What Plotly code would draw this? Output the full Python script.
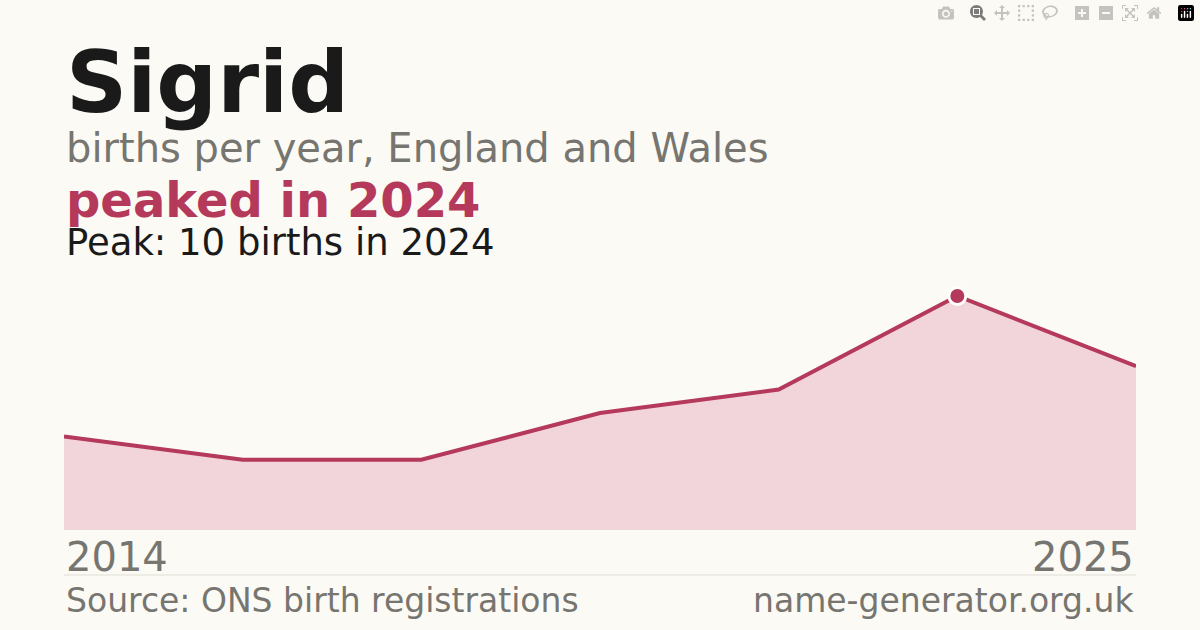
import plotly.graph_objects as go

years = ["2014", "2016", "2018", "2020", "2022", "2024", "2025"]
births = [4, 3, 3, 5, 6, 10, 7]
peak_year = "2024"
peak_value = 10

W, H = 1200, 630
L, R, T, B = 64, 64, 296, 100
PH = H - T - B
x = list(range(len(years)))

def py(p):  # pixel y -> paper y
    return (H - B - p) / PH
def px(p):
    return (p - L) / (W - L - R)

fig = go.Figure()
fig.add_trace(go.Scatter(x=x, y=births, mode="lines", fill="tozeroy",
                         fillcolor="#f2d5da", line=dict(color="#b5395a", width=4),
                         hoverinfo="skip"))
pi = years.index(peak_year)
fig.add_trace(go.Scatter(x=[x[pi]], y=[peak_value], mode="markers",
                         marker=dict(size=17, color="#b5395a", line=dict(color="white", width=3)),
                         cliponaxis=False, hoverinfo="skip"))

F = "DejaVu Sans"
ann = [
    dict(text="<b>Sigrid</b>", x=px(64), y=py(83), size=85, color="#1a1a1a"),
    dict(text="births per year, England and Wales", x=px(64), y=py(148), size=40, color="#777570"),
    dict(text="<b>peaked in 2024</b>", x=px(64), y=py(200), size=48, color="#b5395a"),
    dict(text="Peak: 10 births in 2024", x=px(64), y=py(243), size=37, color="#1a1a1a"),
    dict(text=years[0], x=px(64), y=py(557), size=40, color="#777570"),
    dict(text="Source: ONS birth registrations", x=px(64), y=py(600), size=33, color="#777570"),
]
annotations = []
for a in ann:
    annotations.append(dict(text=a["text"], x=a["x"], y=a["y"], xref="paper", yref="paper",
                            xanchor="left", yanchor="middle", showarrow=False,
                            font=dict(family=F, size=a["size"], color=a["color"])))
for t, yy, s in [(years[-1], 557, 40), ("name-generator.org.uk", 600, 33)]:
    annotations.append(dict(text=t, x=1, y=py(yy), xref="paper", yref="paper",
                            xanchor="right", yanchor="middle", showarrow=False,
                            font=dict(family=F, size=s, color="#777570")))

fig.update_layout(
    width=W, height=H, margin=dict(l=L, r=R, t=T, b=B),
    paper_bgcolor="#fbfaf5", plot_bgcolor="#fbfaf5", showlegend=False,
    xaxis=dict(range=[0, len(years) - 1], visible=False),
    yaxis=dict(range=[0, peak_value], visible=False),
    annotations=annotations,
    shapes=[dict(type="line", xref="paper", yref="paper", x0=0, x1=1, y0=py(575), y1=py(575),
                 line=dict(color="#e0ddd5", width=1))],
)
fig.write_html("out.html", post_script="document.body.style.margin='0';")
